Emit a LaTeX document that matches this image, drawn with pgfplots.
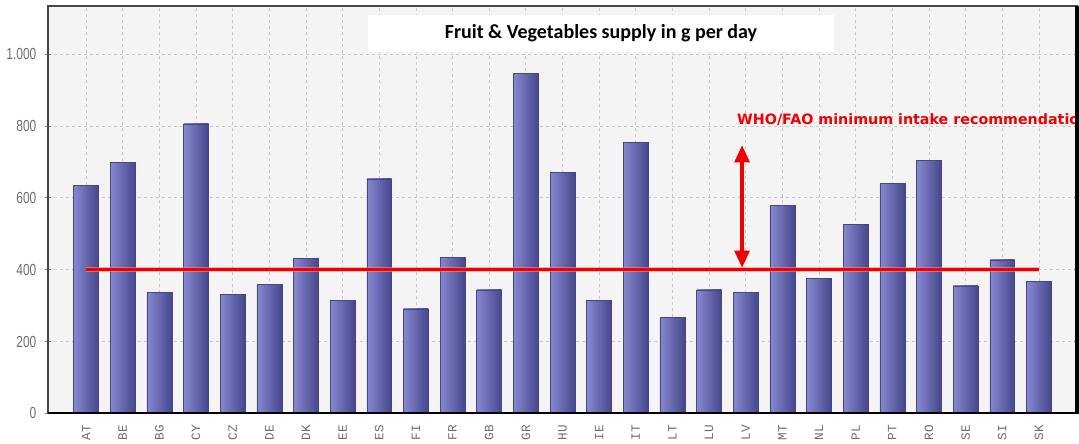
\documentclass[border=0pt]{standalone}
\usepackage{fontspec}
\setmainfont{Liberation Sans}
\newfontfamily\ylabfont[FakeStretch=0.75]{Liberation Sans}
\newfontfamily\xlabfont{Liberation Mono}
\newfontfamily\titlefont{Carlito}
\newfontfamily\redfont{DejaVu Sans}
\usepackage{pgfplots}
\pgfplotsset{compat=1.18}
\usetikzlibrary{arrows.meta}
\definecolor{bgc}{RGB}{244,244,244}
\definecolor{gridc}{RGB}{200,200,200}
\definecolor{barL}{RGB}{136,136,210}
\definecolor{barR}{RGB}{70,70,140}
\definecolor{barD}{RGB}{70,70,130}
\definecolor{labc}{RGB}{110,110,110}
\definecolor{redc}{RGB}{240,0,0}
\pgfplotsset{mybar/.style={ybar, bar width=0.68, bar shift=0pt, draw=barD, line width=0.4pt, left color=barL, right color=barR}}
\begin{document}
\begin{tikzpicture}
\begin{axis}[
  scale only axis, width=771.75pt, height=305.7pt,
  xmin=-1.04, xmax=27.04, ymin=0, ymax=1135,
  xtick={0,...,26},
  xticklabels={AT,BE,BG,CY,CZ,DE,DK,EE,ES,FI,FR,GB,GR,HU,IE,IT,LT,LU,LV,MT,NL,PL,PT,RO,SE,SI,SK},
  ytick={0,200,400,600,800,1000},
  yticklabels={0,200,400,600,800,1.000},
  grid=major,
  major grid style={draw=gridc, dash pattern=on 2.5pt off 2pt, line width=0.6pt},
  axis background/.style={fill=bgc},
  axis line style={draw=gray!55!black, line width=1.3pt},
  xtick style={draw=none},
  ytick style={draw=gray, line width=0.8pt},
  tick align=center, major tick length=5pt,
  xticklabel style={rotate=90, anchor=east, inner sep=0pt, text=labc, font=\xlabfont\fontsize{9.5}{9.5}\selectfont},
  yticklabel style={inner sep=0pt, text=labc, font=\ylabfont\fontsize{12}{12}\selectfont},
  xticklabel shift=6pt,
  yticklabel shift=6pt,
  clip=false,
]
\addplot[mybar] coordinates {(0,634)};
\addplot[mybar] coordinates {(1,698)};
\addplot[mybar] coordinates {(2,336)};
\addplot[mybar] coordinates {(3,806)};
\addplot[mybar] coordinates {(4,332)};
\addplot[mybar] coordinates {(5,359)};
\addplot[mybar] coordinates {(6,431)};
\addplot[mybar] coordinates {(7,315)};
\addplot[mybar] coordinates {(8,653)};
\addplot[mybar] coordinates {(9,291)};
\addplot[mybar] coordinates {(10,435)};
\addplot[mybar] coordinates {(11,344)};
\addplot[mybar] coordinates {(12,946)};
\addplot[mybar] coordinates {(13,671)};
\addplot[mybar] coordinates {(14,315)};
\addplot[mybar] coordinates {(15,754)};
\addplot[mybar] coordinates {(16,268)};
\addplot[mybar] coordinates {(17,344)};
\addplot[mybar] coordinates {(18,336)};
\addplot[mybar] coordinates {(19,579)};
\addplot[mybar] coordinates {(20,375)};
\addplot[mybar] coordinates {(21,527)};
\addplot[mybar] coordinates {(22,640)};
\addplot[mybar] coordinates {(23,705)};
\addplot[mybar] coordinates {(24,355)};
\addplot[mybar] coordinates {(25,427)};
\addplot[mybar] coordinates {(26,367)};
\addplot[draw=red!45, line width=4.2pt, opacity=0.6] coordinates {(0,400) (26,400)};
\addplot[draw=redc, line width=2.6pt] coordinates {(0,400) (26,400)};
\addplot[draw=redc, line width=3pt, {Triangle[width=11pt,length=13pt]}-{Triangle[width=11pt,length=13pt]}]
  coordinates {(17.9,405) (17.9,747)};
\node[fill=white, minimum width=350pt, minimum height=27.75pt, inner sep=0pt,
  font=\titlefont\bfseries\fontsize{15}{15}\selectfont]
  at (axis cs:14.05,1057.5) {Fruit \& Vegetables supply in g per day};
\node[anchor=west, text=redc, inner sep=0pt, font=\redfont\bfseries\fontsize{10.7}{10.7}\selectfont]
  at (axis cs:17.76,818) {WHO/FAO minimum intake recommendation};
\draw[black, line width=1.4pt] (rel axis cs:0,0) -- (rel axis cs:1,0);
\draw[black, line width=3pt] (rel axis cs:1,-0.002) -- (rel axis cs:1,1);
\end{axis}
\pgfresetboundingbox
\useasboundingbox (-36pt,-22.3pt) rectangle (773.25pt,310pt);
\end{tikzpicture}
\end{document}
